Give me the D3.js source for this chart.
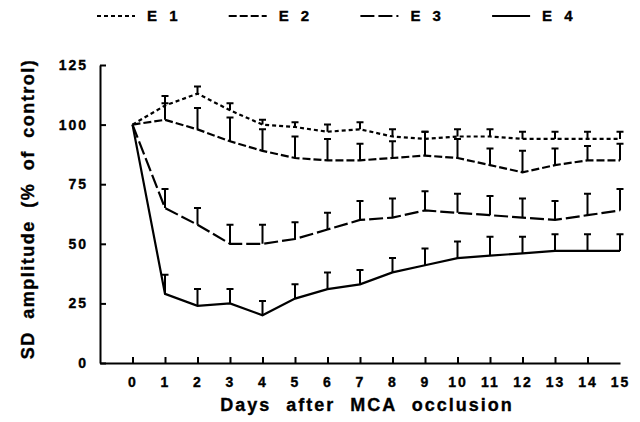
<!DOCTYPE html>
<html>
<head>
<meta charset="utf-8">
<script src="https://cdn.jsdelivr.net/npm/d3@7"></script>
<style>
  body { margin: 0; background: #fff; }
  text { font-family: "Liberation Sans", Arial, sans-serif; font-weight: bold; fill: #000; stroke: #000; stroke-width: 0.35px; }
</style>
</head>
<body>
<svg id="chart"></svg>
<script>
// values (% of control), days 0..15
var days = d3.range(0, 16);
var seriesNames = ["E 1", "E 2", "E 3", "E 4"];
var e1 = [100, 108, 113, 106, 100, 99, 97, 98, 95, 94, 95, 95, 94, 94, 94, 94];
var e1Err = [0, 4, 3, 3, 2, 2, 3, 3, 3, 3, 3, 3, 3, 3, 3, 3];
var e2 = [100, 102, 98, 93, 89, 86, 85, 85, 86, 87, 86, 83, 80, 83, 85, 85];
var e2Err = [0, 7, 9, 10, 9, 9, 9, 7, 7, 10, 8, 7, 9, 7, 6, 7];
var e3 = [100, 65, 58, 50, 50, 52, 56, 60, 61, 64, 63, 62, 61, 60, 62, 64];
var e3Err = [0, 8, 7, 8, 8, 7, 7, 8, 8, 8, 8, 8, 8, 8, 9, 9];
var e4 = [100, 29, 24, 25, 20, 27, 31, 33, 38, 41, 44, 45, 46, 47, 47, 47];
var e4Err = [0, 8, 7, 6, 6, 6, 7, 6, 6, 7, 7, 8, 7, 7, 7, 7];
var yTicks = [0, 25, 50, 75, 100, 125];

var width = 640, height = 422;
var dashes = ["4,3", "8,3", "14,4", null];

var svg = d3.select("#chart")
    .attr("width", width)
    .attr("height", height);

var x = d3.scaleLinear().domain([-1, 15]).range([100, 620]);
var y = d3.scaleLinear().domain([0, 125]).range([363, 65]);

var series = [e1, e2, e3, e4].map((vals, i) => ({
  name: seriesNames[i],
  dash: dashes[i],
  points: days.map((d, j) => ({ day: d, v: vals[j], err: [e1Err, e2Err, e3Err, e4Err][i][j] }))
}));

// axes
var yAxis = svg.append("g")
    .attr("transform", "translate(" + x(-1) + ",0)")
    .call(d3.axisLeft(y).tickValues(yTicks).tickSizeInner(-6).tickSizeOuter(0).tickPadding(12));

var xAxis = svg.append("g")
    .attr("transform", "translate(0," + y(0) + ")")
    .call(d3.axisBottom(x).tickValues(days).tickSizeInner(-6).tickSizeOuter(0).tickPadding(14));

[yAxis, xAxis].forEach(g => {
  g.select(".domain").attr("stroke-width", 2);
  g.selectAll(".tick line").attr("stroke-width", 2);
  g.selectAll(".tick text")
      .style("font-size", "14px")
      .style("letter-spacing", "2px")
      .attr("fill", "#000");
});
xAxis.selectAll(".tick").filter(d => d === 15).select("line").remove();

// lines
var line = d3.line()
    .x(d => x(d.day))
    .y(d => y(d.v));

svg.selectAll(".series")
  .data(series)
  .enter()
  .append("path")
    .attr("class", "series")
    .attr("d", d => line(d.points))
    .attr("fill", "none")
    .attr("stroke", "#000")
    .attr("stroke-width", 2.2)
    .attr("stroke-dasharray", d => d.dash);

// error bars (upper only)
series.forEach(s => {
  svg.append("g").selectAll("path")
    .data(s.points.filter(p => p.err > 0))
    .enter()
    .append("path")
      .attr("d", p => "M" + x(p.day) + "," + y(p.v) + "V" + y(p.v + p.err) +
                      "M" + (x(p.day) - 3.5) + "," + y(p.v + p.err) + "H" + (x(p.day) + 3.5))
      .attr("fill", "none")
      .attr("stroke", "#000")
      .attr("stroke-width", 2);
});

// legend
var legend = svg.append("g").selectAll("g")
  .data(series)
  .enter()
  .append("g")
    .attr("transform", (d, i) => "translate(" + (97 + i * 131.7) + ",16)");

legend.append("line")
    .attr("x1", 0).attr("x2", 38)
    .attr("stroke", "#000")
    .attr("stroke-width", 2)
    .attr("stroke-dasharray", d => d.dash);

legend.append("text")
    .attr("x", 50)
    .attr("dy", "0.36em")
    .style("font-size", "15px")
    .style("letter-spacing", "1px")
    .style("word-spacing", "6px")
    .text(d => d.name);

// axis titles
svg.append("text")
    .attr("x", 367)
    .attr("y", 411)
    .attr("text-anchor", "middle")
    .style("font-size", "18px")
    .style("letter-spacing", "2px")
    .style("word-spacing", "8px")
    .text("Days after MCA occlusion");

svg.append("text")
    .attr("transform", "translate(34,209) rotate(-90)")
    .attr("text-anchor", "middle")
    .style("font-size", "18px")
    .style("letter-spacing", "1.5px")
    .style("word-spacing", "6px")
    .text("SD amplitude (% of control)");
</script>
</body>
</html>
